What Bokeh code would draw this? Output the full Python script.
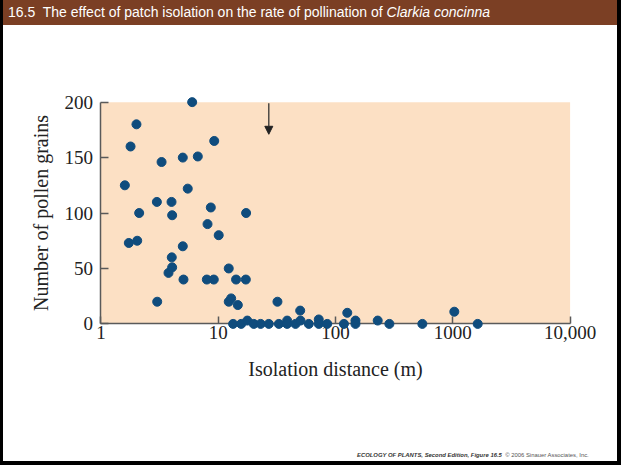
import math
from bokeh.plotting import figure
from bokeh.layouts import column
from bokeh.models import (Range1d, FixedTicker, BoxAnnotation, Arrow, Div, Label,
                          NormalHead, ColumnDataSource, CustomJSTickFormatter)
from bokeh.embed import file_html
from bokeh.resources import INLINE

# ---- data ----
distance_m = [1.60, 1.79, 2.01, 1.73, 2.04, 2.12, 3.02, 3.0, 3.29, 4.0, 4.05,
              3.77, 4.05, 4.02, 4.99, 5.5, 4.99, 5.06, 6.0, 6.7, 9.25, 8.65,
              8.11, 10.1, 8.0, 9.17, 17.3, 12.3, 14.2, 17.2, 12.3, 12.9, 14.7,
              32, 50, 126, 1030,
              13.4, 15.7, 17.7, 20.1, 23, 27, 32.9, 38.7, 38.7, 45.6, 50.3,
              59.2, 72, 72, 85, 118, 148, 148, 229, 288, 550, 1630]
pollen_grains = [125, 160, 180, 73, 75, 100, 20, 110, 146, 110, 98,
                 46, 51, 60, 150, 122, 70, 40, 200, 151, 165, 105,
                 90, 80, 40, 40, 100, 50, 40, 40, 20, 23, 17,
                 20, 12, 10, 11,
                 0, 0, 3, 0, 0, 0, 0, 3, 0, 0, 3,
                 0, 4, 0, 0, 0, 3, 0, 3, 0, 0, 0]
x_ticks = [1, 10, 100, 1000, 10000]
x_tick_labels = ["1", "10", "100", "1000", "10,000"]
y_ticks = [0, 50, 100, 150, 200]
arrow_distance = 27
arrow_from, arrow_to = 199, 171

x_title = "Isolation distance (m)"
y_title = "Number of pollen grains"
title_main = "16.5&nbsp; The effect of patch isolation on the rate of pollination of "
title_species = "Clarkia concinna"
footer_bold = "ECOLOGY OF PLANTS, Second Edition, Figure 16.5"
footer_rest = "&copy; 2006 Sinauer Associates, Inc."

PEACH = "#fce0c4"
DOT = "#0f4c7d"
BROWN = "#7b3f24"
AXIS = "#5a5a5a"
SERIF = "Liberation Serif"
TXT = "#222222"

# ---- layout constants (pixels inside the figure canvas) ----
INNER_W, FIG_H = 614, 420
X1_PX, DECADE_PX = 97.4, 117.3        # where x=1 sits, pixels per decade
Y0_PX, PX_PER_UNIT = 298.4, 1.1088     # where y=0 sits (from top), px per grain

x_start = 10 ** (-X1_PX / DECADE_PX)
x_end = 10 ** ((INNER_W - X1_PX) / DECADE_PX)
y_end = Y0_PX / PX_PER_UNIT
y_start = -(FIG_H - Y0_PX) / PX_PER_UNIT

title_div = Div(
    text=('<div style="background:%s;color:white;font-family:\'Liberation Sans\';'
          'font-size:14px;height:25px;line-height:25px;padding-left:5px;'
          'white-space:nowrap;box-sizing:border-box;width:%dpx">%s<i>%s</i></div>'
          % (BROWN, INNER_W, title_main, title_species)),
    width=INNER_W, height=25, margin=0)

p = figure(width=INNER_W, height=FIG_H, x_axis_type="log",
           x_range=Range1d(x_start, x_end), y_range=Range1d(y_start, y_end),
           output_backend="svg", toolbar_location=None,
           min_border=0, margin=0)
p.background_fill_color = "white"
p.border_fill_color = "white"
p.outline_line_color = None
p.grid.visible = False

# shaded data region
p.add_layout(BoxAnnotation(left=x_ticks[0], right=x_ticks[-1],
                           bottom=y_ticks[0], top=y_ticks[-1],
                           fill_color=PEACH, fill_alpha=1.0,
                           line_color=None, level="underlay"))

src = ColumnDataSource(dict(x=distance_m, y=pollen_grains))
p.scatter("x", "y", source=src, size=9, fill_color=DOT, line_color=DOT,
          level="annotation")

p.add_layout(Arrow(x_start=arrow_distance, y_start=arrow_from,
                   x_end=arrow_distance, y_end=arrow_to,
                   line_color="#333333", line_width=1.3,
                   end=NormalHead(size=8, fill_color="#222222",
                                  line_color="#222222")))

# axes (drawn at x=1 and y=0 inside the frame)
xa = p.xaxis[0]
xa.fixed_location = 0
xa.bounds = (x_ticks[0], x_ticks[-1])
xa.ticker = FixedTicker(ticks=x_ticks)
xa.formatter = CustomJSTickFormatter(
    args=dict(tick_vals=x_ticks, tick_texts=x_tick_labels),
    code="""
      for (let i = 0; i < tick_vals.length; i++) {
        if (Math.abs(Math.log10(tick_vals[i]) - Math.log10(tick)) < 1e-6) return tick_texts[i];
      }
      return "";
    """)

ya = p.yaxis[0]
ya.fixed_location = x_ticks[0]
ya.bounds = (y_ticks[0], y_ticks[-1])
ya.ticker = FixedTicker(ticks=y_ticks)

for ax in (xa, ya):
    ax.axis_line_color = AXIS
    ax.axis_line_width = 1.5
    ax.major_tick_line_color = AXIS
    ax.major_tick_line_width = 1.5
    ax.major_tick_out = 0
    ax.minor_tick_line_color = None
    ax.major_label_text_font = SERIF
    ax.major_label_text_font_size = "19px"
    ax.major_label_text_color = TXT
xa.major_tick_in = 7
ya.major_tick_in = 8
xa.major_label_standoff = 2
ya.major_label_standoff = 8

# axis titles (screen units, from the frame's bottom-left corner)
p.add_layout(Label(x=X1_PX + 0.5 * 4 * DECADE_PX, y=FIG_H - 343.0,
                   x_units="screen", y_units="screen", text=x_title,
                   text_font=SERIF, text_font_size="20px", text_color=TXT,
                   text_align="center", text_baseline="middle"))
p.add_layout(Label(x=37.0, y=FIG_H - (Y0_PX - 100 * PX_PER_UNIT),
                   x_units="screen", y_units="screen", text=y_title,
                   angle=math.pi / 2,
                   text_font=SERIF, text_font_size="20px", text_color=TXT,
                   text_align="center", text_baseline="middle"))

footer_div = Div(
    text=('<div style="font-family:\'Liberation Sans\';font-size:5.9px;'
          'line-height:9px;padding-left:354px;white-space:nowrap;color:#333;'
          'width:%dpx;box-sizing:border-box"><b><i>%s</i></b>&nbsp; '
          '<span style="color:#555">%s</span></div>'
          % (INNER_W, footer_bold, footer_rest)),
    width=INNER_W, height=16, margin=0)

page = column(title_div, p, footer_div, spacing=0, margin=0,
              styles={"border-left": "3px solid black",
                      "border-right": "4px solid black",
                      "border-bottom": "4px solid black",
                      "background-color": "white"})

open("out.html", "w").write(file_html(page, INLINE))
